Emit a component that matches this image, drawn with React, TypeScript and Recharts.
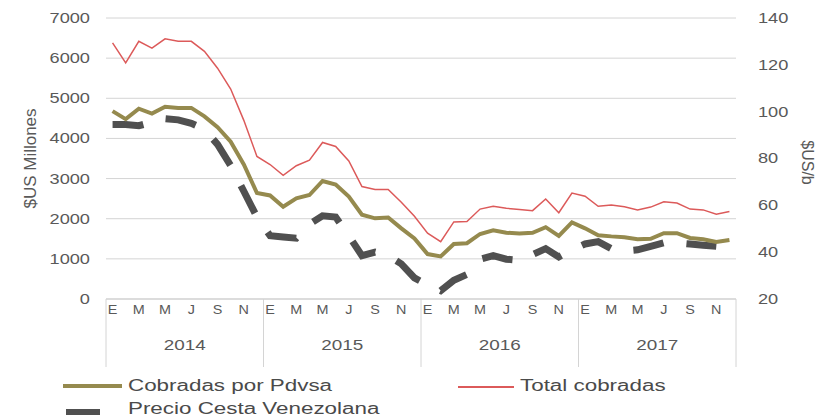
import { Line, LineChart, XAxis, YAxis } from "recharts";

const years = ["2014", "2015", "2016", "2017"];
const monthLetters = ["E", "F", "M", "A", "M", "J", "J", "A", "S", "O", "N", "D"];

// millones de US$
const totalCobradas = [
  6380, 5880, 6420, 6250, 6480, 6420, 6420, 6170, 5750, 5230, 4450, 3550,
  3350, 3080, 3320, 3460, 3900, 3800, 3440, 2800, 2730, 2730, 2410, 2060,
  1640, 1430, 1920, 1930, 2240, 2310, 2260, 2230, 2200, 2490, 2150, 2640,
  2560, 2310, 2340, 2300, 2220, 2290, 2420, 2390, 2240, 2220, 2110, 2180,
];
const cobradasPdvsa = [
  4680, 4480, 4740, 4620, 4790, 4760, 4760, 4550, 4280, 3920, 3350, 2640,
  2580, 2300, 2510, 2590, 2940, 2850, 2550, 2100, 2010, 2030, 1760, 1510,
  1120, 1060, 1370, 1390, 1620, 1710, 1650, 1630, 1650, 1790, 1570, 1910,
  1760, 1590, 1560, 1540, 1490, 1500, 1640, 1640, 1520, 1490, 1420, 1470,
];
// US$/b
const precioCesta: (number | null)[] = [
  94.5, 94.5, 94, 95.5, 97, 96.5, 95, 92.5, 86, 77, 66, 55,
  47, 46.5, 46, 52, 55.5, 55, 47, 38.5, 40, 38.5, 35, 29,
  26, 23.5, 28, 30.5, 37, 38.5, 37, 36.5, 39, 41.5, 38, 41,
  43.5, 44.5, 41.5, 40.5, 41, 42.5, 44, 44, 43.5, 43, 42.5, null,
];

const leftTicks = [0, 1000, 2000, 3000, 4000, 5000, 6000, 7000];
const rightTicks = [20, 40, 60, 80, 100, 120, 140];

const seriesNames = {
  pdvsa: "Cobradas por Pdvsa",
  total: "Total cobradas",
  precio: "Precio Cesta Venezolana",
};

const data = totalCobradas.map((t, i) => ({
  x: i,
  total: t,
  pdvsa: cobradasPdvsa[i],
  precio: precioCesta[i],
}));

const nMonths = totalCobradas.length;
const domain: [number, number] = [-0.5, nMonths - 0.5];
const monthBounds = Array.from({ length: nMonths + 1 }, (_, i) => i - 0.5);
const monthTicks = data.filter((d) => d.x % 2 === 0).map((d) => d.x);
const yearTicks = years.flatMap((_, i) => [i * 12 - 0.5, i * 12 + 5.5]).concat(nMonths - 0.5);

// layout
const W = 817;
const H = 420;
const TOP = 18;
const BOTTOM = 51;
const LEFT_W = 106;
const RIGHT_W = 81;
const MONTH_H = 20;
const YEAR_H = 50;
const PLOT_W = W - LEFT_W - RIGHT_W;
const PLOT_H = H - TOP - BOTTOM - MONTH_H - YEAR_H;

const FONT = '"Liberation Sans", Arial, sans-serif';
const TEXT = "#595959";
const GRID = "#d4d4d4";
const OLIVE = "#958a4e";
const RED = "#dc5a5a";
const DARK = "#505050";

// the source picture is stretched sideways, so the text is too
const stretch = (x: number, k: number) => `translate(${x} 0) scale(${k} 1) translate(${-x} 0)`;

const LeftTick = (p: any) => (
  <text x={p.x} y={p.y} dy={5} textAnchor="end" fontSize={14} fill={TEXT} fontFamily={FONT} transform={stretch(p.x, 1.3)}>
    {p.payload.value}
  </text>
);

const RightTick = (p: any) => (
  <text x={p.x} y={p.y} dy={5} textAnchor="start" fontSize={14} fill={TEXT} fontFamily={FONT} transform={stretch(p.x, 1.3)}>
    {p.payload.value}
  </text>
);

const MonthTick = (p: any) => (
  <text x={p.x} y={p.y} dy={15} textAnchor="middle" fontSize={12} fill={TEXT} fontFamily={FONT} transform={stretch(p.x, 1.2)}>
    {monthLetters[p.payload.value % 12]}
  </text>
);

const YearTick = (p: any) => {
  const v = p.payload.value;
  if ((v + 0.5) % 12 === 0) {
    return <line x1={p.x} x2={p.x} y1={p.y - MONTH_H} y2={p.y + 48} stroke={GRID} strokeWidth={1} />;
  }
  return (
    <text x={p.x} y={p.y} dy={31} textAnchor="middle" fontSize={14} fill={TEXT} fontFamily={FONT} transform={stretch(p.x, 1.35)}>
      {years[Math.floor((v + 0.5) / 12)]}
    </text>
  );
};

// gridlines, drawn from the ticks of an underlay chart so they sit below the series
const GridV = (p: any) => <line x1={p.x} x2={p.x} y1={p.y} y2={p.y - PLOT_H} stroke={GRID} strokeWidth={1} />;
const GridH = (p: any) => <line x1={p.x} x2={p.x + PLOT_W} y1={p.y} y2={p.y} stroke={GRID} strokeWidth={1} />;

const LegendText = ({ x, y, children }: { x: number; y: number; children: string }) => (
  <text x={x} y={y} fontSize={16} fill="#4a4a4a" fontFamily={FONT} dominantBaseline="central" transform={stretch(x, 1.4)}>
    {children}
  </text>
);

const GridLayer = () => (
  <div style={{ position: "absolute", left: 0, top: 0 }}>
    <LineChart width={W} height={H} data={data} margin={{ top: TOP, right: RIGHT_W, left: 0, bottom: BOTTOM + MONTH_H + YEAR_H }}>
      <XAxis
        xAxisId="g"
        dataKey="x"
        type="number"
        domain={domain}
        ticks={monthBounds}
        interval={0}
        height={0}
        tickLine={false}
        tickSize={0}
        tickMargin={0}
        axisLine={false}
        tick={GridV}
      />
      <YAxis
        yAxisId="g"
        domain={[0, 7000]}
        ticks={leftTicks}
        interval={0}
        width={LEFT_W}
        tickLine={false}
        tickSize={0}
        tickMargin={0}
        axisLine={false}
        tick={GridH}
      />
      {/* invisible series so the underlay axes get laid out */}
      <Line xAxisId="g" yAxisId="g" dataKey="total" stroke="none" dot={false} legendType="none" isAnimationActive={false} />
    </LineChart>
  </div>
);

export default function App() {
  return (
    <div style={{ position: "absolute", left: 0, top: 0, width: W, height: H, background: "#fff" }}>
      <GridLayer />
      <div style={{ position: "absolute", left: 0, top: 0 }}>
        <LineChart width={W} height={H} data={data} margin={{ top: TOP, right: 0, left: 0, bottom: BOTTOM }}>
          <XAxis
            xAxisId="m"
            dataKey="x"
            type="number"
            domain={domain}
            ticks={monthTicks}
            interval={0}
            height={MONTH_H}
            tickLine={false}
            tickSize={0}
            tickMargin={0}
            axisLine={{ stroke: "#cfcfcf" }}
            tick={MonthTick}
          />
          <XAxis
            xAxisId="yr"
            dataKey="x"
            type="number"
            domain={domain}
            ticks={yearTicks}
            interval={0}
            height={YEAR_H}
            tickLine={false}
            tickSize={0}
            tickMargin={0}
            axisLine={false}
            tick={YearTick}
          />
          <YAxis
            yAxisId="left"
            domain={[0, 7000]}
            ticks={leftTicks}
            interval={0}
            width={LEFT_W}
            axisLine={false}
            tickLine={false}
            tickSize={0}
            tickMargin={16}
            tick={LeftTick}
            label={({ viewBox }: any) => (
              <text
                x={viewBox.x + 30}
                y={viewBox.y + viewBox.height / 2}
                textAnchor="middle"
                dominantBaseline="central"
                fontSize={17}
                fill={TEXT}
                fontFamily={FONT}
                transform={`rotate(-90 ${viewBox.x + 30} ${viewBox.y + viewBox.height / 2})`}
              >
                $US Millones
              </text>
            )}
          />
          <YAxis
            yAxisId="right"
            orientation="right"
            domain={[20, 140]}
            ticks={rightTicks}
            interval={0}
            width={RIGHT_W}
            axisLine={false}
            tickLine={false}
            tickMargin={16}
            tick={RightTick}
            label={({ viewBox }: any) => (
              <text
                x={viewBox.x + 71}
                y={viewBox.y + viewBox.height / 2 + 4}
                textAnchor="middle"
                dominantBaseline="central"
                fontSize={16}
                fill={TEXT}
                fontFamily={FONT}
                transform={`rotate(90 ${viewBox.x + 71} ${viewBox.y + viewBox.height / 2 + 4})`}
              >
                $US/b
              </text>
            )}
          />
          <Line
            xAxisId="m"
            yAxisId="right"
            dataKey="precio"
            name={seriesNames.precio}
            type="linear"
            stroke={DARK}
            strokeWidth={7}
            strokeDasharray="31 23"
            dot={false}
            isAnimationActive={false}
          />
          <Line
            xAxisId="m"
            yAxisId="left"
            dataKey="pdvsa"
            name={seriesNames.pdvsa}
            type="linear"
            stroke={OLIVE}
            strokeWidth={4}
            dot={false}
            isAnimationActive={false}
          />
          <Line
            xAxisId="m"
            yAxisId="left"
            dataKey="total"
            name={seriesNames.total}
            type="linear"
            stroke={RED}
            strokeWidth={1.5}
            dot={false}
            isAnimationActive={false}
          />
        </LineChart>
      </div>
      <svg width={W} height={50} style={{ position: "absolute", left: 0, top: 370 }}>
        <line x1={63} x2={122} y1={16} y2={16} stroke={OLIVE} strokeWidth={4} />
        <LegendText x={128} y={15}>{seriesNames.pdvsa}</LegendText>
        <line x1={458} x2={514} y1={17} y2={17} stroke={RED} strokeWidth={2} />
        <LegendText x={520} y={15}>{seriesNames.total}</LegendText>
        <line x1={66} x2={100} y1={42} y2={42} stroke={DARK} strokeWidth={6} />
        <LegendText x={128} y={38}>{seriesNames.precio}</LegendText>
      </svg>
    </div>
  );
}
